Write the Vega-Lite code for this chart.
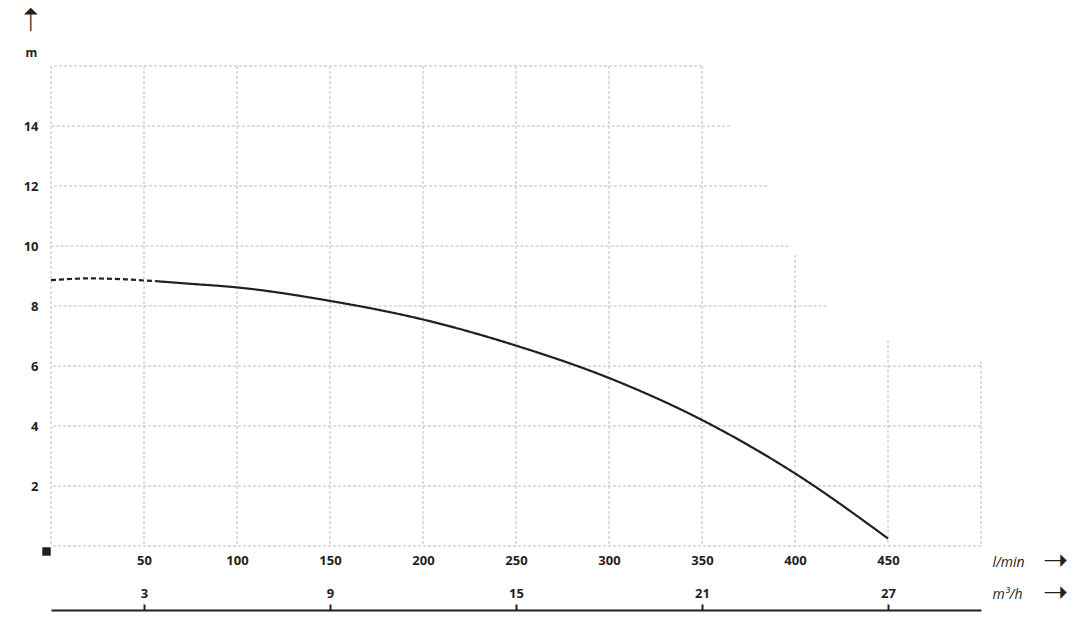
{
  "$schema": "https://vega.github.io/schema/vega-lite/v6.json",
  "width": 930,
  "height": 480,
  "autosize": {"type": "none"},
  "padding": {"left": 51, "top": 66, "right": 102, "bottom": 81},
  "background": "white",
  "config": {
    "view": {"stroke": null},
    "font": "Open Sans",
    "axis": {"labelFont": "Open Sans", "titleFont": "Open Sans", "labelColor": "#231f20", "titleColor": "#231f20"}
  },
  "datasets": {
    "hgrid": [
      {"h": 0, "xend": 500}, {"h": 2, "xend": 500}, {"h": 4, "xend": 500}, {"h": 6, "xend": 500},
      {"h": 8, "xend": 417}, {"h": 10, "xend": 396.5}, {"h": 12, "xend": 385}, {"h": 14, "xend": 365}, {"h": 16, "xend": 350}
    ],
    "vgrid": [
      {"q": 0, "yend": 16}, {"q": 50, "yend": 16}, {"q": 100, "yend": 16}, {"q": 150, "yend": 16},
      {"q": 200, "yend": 16}, {"q": 250, "yend": 16}, {"q": 300, "yend": 16}, {"q": 350, "yend": 16},
      {"q": 400, "yend": 9.7}, {"q": 450, "yend": 6.87}, {"q": 500, "yend": 6.17}
    ],
    "curve": [
      {"q": 0, "h": 8.86, "seg": "dashed"}, {"q": 10, "h": 8.9, "seg": "dashed"}, {"q": 20, "h": 8.92, "seg": "dashed"},
      {"q": 30, "h": 8.91, "seg": "dashed"}, {"q": 40, "h": 8.89, "seg": "dashed"}, {"q": 50, "h": 8.85, "seg": "dashed"},
      {"q": 56, "h": 8.83, "seg": "dashed"},
      {"q": 56, "h": 8.83, "seg": "solid"}, {"q": 75, "h": 8.74, "seg": "solid"}, {"q": 100, "h": 8.62, "seg": "solid"},
      {"q": 150, "h": 8.17, "seg": "solid"}, {"q": 200, "h": 7.55, "seg": "solid"}, {"q": 250, "h": 6.68, "seg": "solid"},
      {"q": 300, "h": 5.6, "seg": "solid"}, {"q": 350, "h": 4.2, "seg": "solid"}, {"q": 400, "h": 2.42, "seg": "solid"},
      {"q": 450, "h": 0.25, "seg": "solid"}
    ]
  },
  "layer": [
    {
      "data": {"name": "hgrid"},
      "mark": {"type": "rule", "color": "#bdbdbd", "strokeDash": [3, 2], "strokeWidth": 1},
      "encoding": {
        "x": {
          "field": "xend", "type": "quantitative",
          "scale": {"domain": [0, 500], "nice": false, "zero": false},
          "axis": {
            "orient": "bottom", "values": [50, 100, 150, 200, 250, 300, 350, 400, 450],
            "domain": false, "ticks": false, "grid": false,
            "labelPadding": 14, "labelBaseline": "middle", "labelFontSize": 13, "labelFontWeight": "bold",
            "title": "l/min", "titleFontStyle": "italic", "titleFontWeight": "normal", "titleFontSize": 14,
            "titleX": 957, "titleY": 16, "titleAlign": "center", "titleBaseline": "middle"
          }
        },
        "x2": {"datum": 0},
        "y": {
          "field": "h", "type": "quantitative",
          "scale": {"domain": [0, 16], "nice": false, "zero": false},
          "axis": {
            "orient": "left", "values": [2, 4, 6, 8, 10, 12, 14],
            "domain": false, "ticks": false, "grid": false,
            "labelPadding": 13, "labelFontSize": 13, "labelFontWeight": "bold",
            "title": "m", "titleAngle": 0, "titleX": -20, "titleY": -14, "titleAlign": "center", "titleBaseline": "middle",
            "titleFontSize": 12, "titleFontWeight": "bold"
          }
        }
      }
    },
    {
      "data": {"name": "vgrid"},
      "mark": {"type": "rule", "color": "#bdbdbd", "strokeDash": [3, 2], "strokeWidth": 1},
      "encoding": {
        "x": {
          "field": "q", "type": "quantitative",
          "scale": {"domain": [0, 500], "nice": false, "zero": false},
          "axis": {
            "orient": "bottom", "offset": 64, "values": [50, 150, 250, 350, 450],
            "labelExpr": "round(datum.value * 0.06)",
            "domain": true, "domainColor": "#231f20", "domainWidth": 2,
            "ticks": true, "tickSize": -6, "tickColor": "#231f20", "tickWidth": 2, "grid": false,
            "labelPadding": -11, "labelBaseline": "middle", "labelFontSize": 13, "labelFontWeight": "bold",
            "title": "m³/h", "titleFontStyle": "italic", "titleFontWeight": "normal", "titleFontSize": 14,
            "titleX": 956, "titleY": -16, "titleAlign": "center", "titleBaseline": "middle"
          }
        },
        "y": {
          "field": "yend", "type": "quantitative",
          "scale": {"domain": [0, 16], "nice": false, "zero": false},
          "axis": {
            "orient": "left", "labels": false, "ticks": false, "domain": false, "grid": false,
            "title": "➝", "titleFont": "DejaVu Sans", "titleFontSize": 32, "titleFontWeight": "normal", "titleAngle": 270,
            "titleX": -21, "titleY": -47, "titleAlign": "center", "titleBaseline": "middle"
          }
        },
        "y2": {"datum": 0}
      }
    },
    {
      "data": {"name": "curve"},
      "mark": {"type": "line", "color": "#231f20", "strokeWidth": 2.2, "interpolate": "monotone"},
      "encoding": {
        "x": {
          "field": "q", "type": "quantitative",
          "scale": {"domain": [0, 500], "nice": false, "zero": false},
          "axis": {
            "orient": "bottom", "labels": false, "ticks": false, "domain": false, "grid": false,
            "title": "➝", "titleFont": "DejaVu Sans", "titleFontSize": 30, "titleFontWeight": "normal",
            "titleX": 1004, "titleY": 14, "titleAlign": "center", "titleBaseline": "middle"
          }
        },
        "y": {"field": "h", "type": "quantitative", "scale": {"domain": [0, 16], "nice": false, "zero": false}, "axis": null},
        "strokeDash": {"field": "seg", "type": "nominal", "scale": {"domain": ["dashed", "solid"], "range": [[5, 3], [1, 0]]}, "legend": null}
      }
    },
    {
      "data": {"values": [{"label": "origin"}]},
      "mark": {"type": "point", "shape": "square", "filled": true, "color": "#231f20", "opacity": 1, "size": 72, "xOffset": -4.5, "yOffset": 5.5},
      "encoding": {
        "x": {
          "datum": 0, "type": "quantitative",
          "scale": {"domain": [0, 500], "nice": false, "zero": false},
          "axis": {
            "orient": "bottom", "labels": false, "ticks": false, "domain": false, "grid": false,
            "title": "➝", "titleFont": "DejaVu Sans", "titleFontSize": 30, "titleFontWeight": "normal",
            "titleX": 1004, "titleY": 46, "titleAlign": "center", "titleBaseline": "middle"
          }
        },
        "y": {"datum": 0, "type": "quantitative", "scale": {"domain": [0, 16], "nice": false, "zero": false}, "axis": null}
      }
    }
  ],
  "resolve": {"axis": {"x": "independent", "y": "independent"}}
}
